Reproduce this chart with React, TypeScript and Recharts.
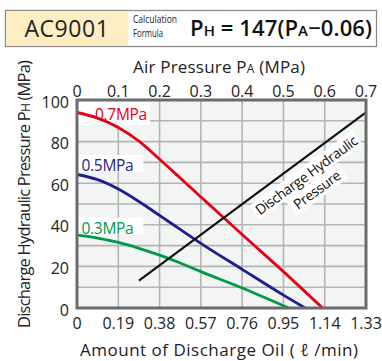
import {
  LineChart,
  Line,
  XAxis,
  YAxis,
  ReferenceArea,
  ReferenceLine,
  ReferenceDot,
} from "recharts";

// tick labels
const flowTicks = [0, 0.19, 0.38, 0.57, 0.76, 0.95, 1.14, 1.33];
const airTicks = [0, 0.1, 0.2, 0.3, 0.4, 0.5, 0.6, 0.7];
const pressureTicks = [0, 10, 20, 30, 40, 50, 60, 70, 80, 90, 100];

// discharge oil (l/min) vs hydraulic pressure (MPa), per air pressure
const flow07 = [0, 0.095, 0.19, 0.285, 0.38, 0.475, 0.57, 0.76, 0.95, 1.13];
const ph07 = [94, 91.3, 86.8, 80.2, 71.5, 62.5, 53.4, 35.3, 17.5, 0];
const flow05 = [0, 0.095, 0.19, 0.285, 0.38, 0.475, 0.57, 0.76, 0.95, 1.05];
const ph05 = [64.2, 61.7, 57.2, 51.2, 44.5, 37.8, 31.1, 18.6, 6.2, 0];
const flow03 = [0, 0.095, 0.19, 0.285, 0.38, 0.475, 0.57, 0.76, 0.95, 0.975];
const ph03 = [35, 33.6, 31.5, 28.7, 25.4, 21.6, 17.5, 9.6, 1.1, 0];

// discharge hydraulic pressure vs air pressure (top axis)
const airPressure = [0.15, 0.7];
const outputPressure = [13.2, 94.1];

const RED = "#e60012";
const BLUE = "#1d2088";
const GREEN = "#009944";
const GRID = "#b4b4b4";

const curve07 = flow07.map((flow, i) => ({ flow, ph: ph07[i] }));
const curve05 = flow05.map((flow, i) => ({ flow, ph: ph05[i] }));
const curve03 = flow03.map((flow, i) => ({ flow, ph: ph03[i] }));
const hydraulic = airPressure.map((pa, i) => ({ pa, ph: outputPressure[i] }));

const tickStyle = { fontSize: 16, fill: "#222", fontFamily: "'Open Sans', sans-serif" };

const curveLabel = (text: string, color: string, dx: number, dy: number) => (props: any) => {
  const vb = props.viewBox ?? {};
  return (
    <text x={(vb.x ?? 0) + dx} y={(vb.y ?? 0) + dy} fill={color} fontSize={15.5} letterSpacing={-0.3}>
      {text}
    </text>
  );
};

const pressureNote = (props: any) => {
  const vb = props.viewBox ?? {};
  const cx = (vb.x ?? 0) + (vb.width ?? 0) / 2;
  const cy = (vb.y ?? 0) + (vb.height ?? 0) / 2;
  return (
    <g transform={`translate(${cx},${cy}) rotate(-36.3)`}>
      <rect x={-64} y={-18} width={128} height={17} fill="#fff" />
      <rect x={-32} y={0} width={64} height={18} fill="#fff" />
      <text textAnchor="middle" y={-4} fontSize={14} fill="#111" letterSpacing={-0.4}>
        Discharge Hydraulic
      </text>
      <text textAnchor="middle" y={14} fontSize={14} fill="#111" letterSpacing={-0.4}>
        Pressure
      </text>
    </g>
  );
};

export default function App() {
  return (
    <div
      style={{
        position: "absolute",
        left: 0,
        top: 0,
        width: 382,
        height: 361,
        background: "#fff",
        fontFamily: "'Open Sans', sans-serif",
      }}
    >
      <LineChart width={382} height={361} margin={{ top: 80, right: 16, bottom: 28, left: 37 }}>
        <XAxis
          xAxisId="top"
          orientation="top"
          type="number"
          dataKey="pa"
          domain={[0, 0.7]}
          ticks={airTicks}
          tickLine={false}
          axisLine={false}
          tickSize={0}
          tickMargin={3}
          height={20}
          tick={tickStyle}
          allowDataOverflow
        />
        <XAxis
          xAxisId="bottom"
          type="number"
          dataKey="flow"
          domain={[0, 1.33]}
          ticks={flowTicks}
          tickLine={false}
          axisLine={false}
          tickSize={0}
          tickMargin={10}
          height={25}
          tick={tickStyle}
          allowDataOverflow
        />
        <YAxis
          yAxisId={0}
          type="number"
          domain={[0, 100]}
          ticks={pressureTicks}
          tickLine={false}
          axisLine={false}
          tickSize={0}
          tickMargin={8}
          width={40}
          tick={{ ...tickStyle, dy: 2 }}
          allowDataOverflow
        />

        {/* plot background and grid */}
        <ReferenceArea
          xAxisId="bottom"
          x1={0}
          x2={1.33}
          y1={0}
          y2={100}
          fill="#f3f4f4"
          fillOpacity={1}
          stroke="none"
          ifOverflow="visible"
        />
        {flowTicks.map((t) => (
          <ReferenceLine
            key={`v${t}`}
            xAxisId="bottom"
            x={t}
            stroke={GRID}
            strokeWidth={1.6}
            ifOverflow="visible"
          />
        ))}
        {pressureTicks.map((t) => (
          <ReferenceLine
            key={`h${t}`}
            xAxisId="bottom"
            y={t}
            stroke={GRID}
            strokeWidth={1.6}
            ifOverflow="visible"
          />
        ))}

        {/* white boxes behind the curve names */}
        <ReferenceArea
          xAxisId="bottom"
          x1={0}
          x2={0.335}
          y1={88}
          y2={100}
          fill="#fff"
          fillOpacity={1}
          stroke="none"
          zIndex={400}
          label={{ content: curveLabel("0.7MPa", RED, 18, 19.5) }}
        />
        <ReferenceArea
          xAxisId="bottom"
          x1={0}
          x2={0.305}
          y1={65.5}
          y2={73.5}
          fill="#fff"
          fillOpacity={1}
          stroke="none"
          zIndex={400}
          label={{ content: curveLabel("0.5MPa", BLUE, 4.5, 15.4) }}
        />
        <ReferenceArea
          xAxisId="bottom"
          x1={0}
          x2={0.305}
          y1={35.5}
          y2={43.5}
          fill="#fff"
          fillOpacity={1}
          stroke="none"
          zIndex={400}
          label={{ content: curveLabel("0.3MPa", GREEN, 4.5, 16) }}
        />
        <ReferenceDot
          xAxisId="bottom"
          x={1.08}
          y={60.3}
          r={2}
          fill="none"
          stroke="none"
          label={{ content: pressureNote }}
        />

        <Line xAxisId="bottom" data={curve07} dataKey="ph" type="monotone" stroke={RED} strokeWidth={2.8} dot={false} isAnimationActive={false} />
        <Line xAxisId="bottom" data={curve05} dataKey="ph" type="monotone" stroke={BLUE} strokeWidth={2.8} dot={false} isAnimationActive={false} />
        <Line xAxisId="bottom" data={curve03} dataKey="ph" type="monotone" stroke={GREEN} strokeWidth={2.8} dot={false} isAnimationActive={false} />
        <Line xAxisId="top" data={hydraulic} dataKey="ph" type="linear" stroke="#111" strokeWidth={2.2} dot={false} isAnimationActive={false} />

        {/* plot frame */}
        <ReferenceArea
          xAxisId="bottom"
          x1={0}
          x2={1.33}
          y1={0}
          y2={100}
          fill="transparent"
          fillOpacity={0}
          stroke="#6b6b6b"
          strokeWidth={3}
          zIndex={500}
        />
      </LineChart>

      <svg
        width={382}
        height={361}
        style={{ position: "absolute", left: 0, top: 0, pointerEvents: "none" }}
      >
        {/* header */}
        <rect x={5.5} y={10.5} width={371} height={36} fill="#fff" stroke="#8a8a8a" strokeWidth={1.3} />
        <rect x={6.2} y={11.2} width={122} height={34.6} fill="#fdefc3" />
        <text x={67} y={36.5} textAnchor="middle" fontSize={23} fill="#222" letterSpacing={0.6}>
          AC9001
        </text>
        <text x={133} y={22.5} fontSize={11.5} fill="#222" textLength={44} lengthAdjust="spacingAndGlyphs">
          Calculation
        </text>
        <text x={133} y={36.5} fontSize={11.5} fill="#222" textLength={30} lengthAdjust="spacingAndGlyphs">
          Formula
        </text>
        <text x={190} y={36} fontSize={22} fontWeight={600} fill="#111" textLength={182} lengthAdjust="spacing">
          P<tspan fontSize={15}>H</tspan> = 147(P<tspan fontSize={15}>A</tspan>−0.06)
        </text>

        {/* axis titles */}
        <text x={219} y={73} textAnchor="middle" fontSize={17} fill="#222" textLength={172} lengthAdjust="spacing">
          Air Pressure P<tspan fontSize={12}>A</tspan>{"\u00a0(MPa)"}
        </text>
        <text x={219} y={356} textAnchor="middle" fontSize={17} fill="#222" textLength={278} lengthAdjust="spacing">
          Amount of Discharge Oil ( ℓ /min)
        </text>
        <text
          transform="translate(30,194) rotate(-90)"
          textAnchor="middle"
          fontSize={16.5}
          fill="#222"
          textLength={268}
          lengthAdjust="spacing"
        >
          Discharge Hydraulic Pressure P<tspan fontSize={12}>H</tspan>{"\u00a0(MPa)"}
        </text>
      </svg>
    </div>
  );
}
